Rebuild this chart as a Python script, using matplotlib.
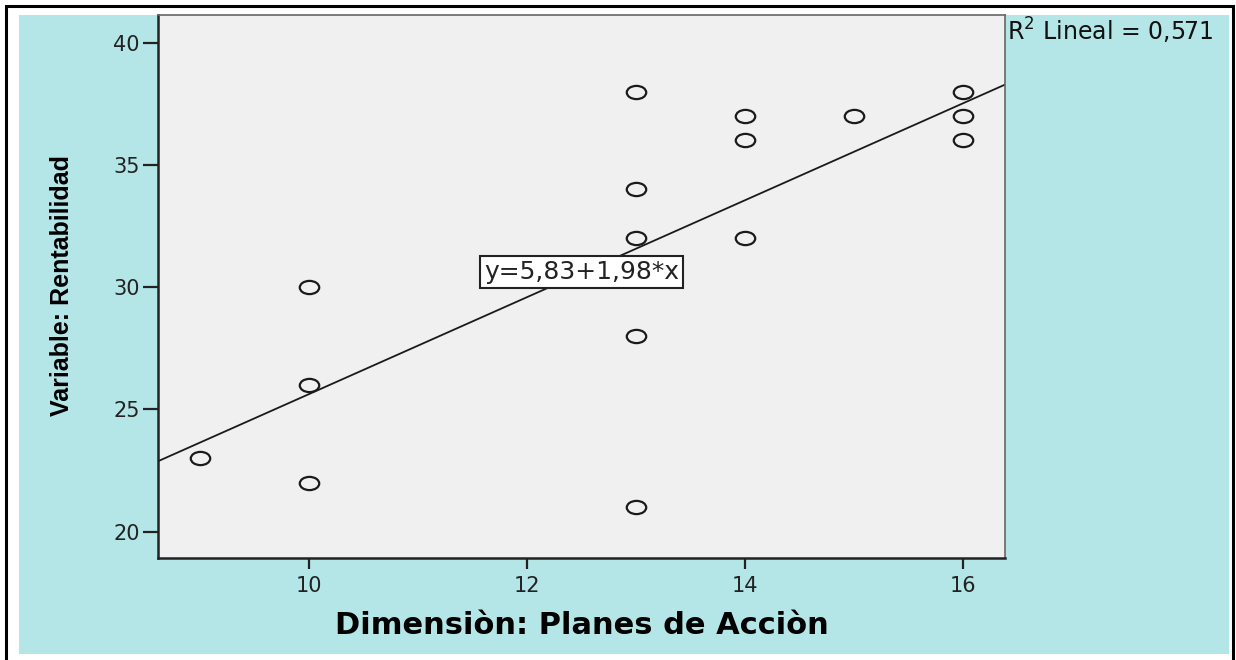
import numpy as np
import matplotlib
matplotlib.use('Agg')
import matplotlib.pyplot as plt
from matplotlib.patches import Rectangle
from matplotlib.path import Path
from matplotlib.transforms import Affine2D

# datos
planes = [9, 10, 10, 10, 13, 13, 13, 13, 13, 14, 14, 14, 15, 16, 16, 16]
rentab = [23, 30, 26, 22, 38, 34, 32, 28, 21, 37, 36, 32, 37, 38, 37, 36]
intercepto = 5.83
pendiente = 1.98
r2 = '0,571'
xticks = [10, 12, 14, 16]
yticks = [20, 25, 30, 35, 40]

W, H = 1236, 660
fig = plt.figure(figsize=(W / 100, H / 100), dpi=100)
fig.patch.set_facecolor('white')

# marco negro y fondo cian
fig.patches.append(Rectangle((6 / W, -0.01), 1227 / W, 1 - 6 / H + 0.01, transform=fig.transFigure,
                             facecolor='white', edgecolor='black', lw=2.2, zorder=-3))
fig.patches.append(Rectangle((19 / W, 6 / H), 1210 / W, 639 / H, transform=fig.transFigure,
                             facecolor='#b4e6e8', edgecolor='none', zorder=-2))

ax = fig.add_axes([158 / W, 1 - 558 / H, 847 / W, 543 / H])
ax.set_facecolor('#f0f0f0')

# circulos algo achatados como en SPSS
ellipse = Path.unit_circle().transformed(Affine2D().scale(1, 0.68))
ax.plot(planes, rentab, linestyle='none', marker=ellipse, ms=14, mfc='none', mec='#1a1a1a', mew=1.6, zorder=3)

xlim = (8.61, 16.39)
xs = np.array(xlim)
ax.plot(xs, intercepto + pendiente * xs, color='#1a1a1a', lw=1.3, zorder=2)
ax.set_xlim(xlim)
ax.set_ylim(18.92, 41.13)

ax.text(12.5, 30.62, 'y=5,83+1,98*x', fontsize=18, ha='center', va='center', family='DejaVu Sans',
        color='#222222', zorder=4,
        bbox=dict(boxstyle='square,pad=0.15', facecolor='white', edgecolor='#222222', lw=1.5))

ax.set_xticks(xticks)
ax.set_yticks(yticks)
ax.tick_params(axis='x', length=8, width=1.6, pad=5, labelsize=15, colors='#222222')
ax.tick_params(axis='y', length=11, width=1.6, pad=2, labelsize=15, colors='#222222')
for lab in ax.get_xticklabels() + ax.get_yticklabels():
    lab.set_family('DejaVu Sans')

for s in ['left', 'bottom']:
    ax.spines[s].set_linewidth(1.8)
    ax.spines[s].set_color('#222222')
for s in ['top', 'right']:
    ax.spines[s].set_linewidth(1.2)
    ax.spines[s].set_color('#666666')

ax.set_xlabel('Dimensiòn: Planes de Acciòn', fontsize=22, fontweight='bold', family='DejaVu Sans', labelpad=11)
fig.text(62 / W, 1 - 286 / H, 'Variable: Rentabilidad', rotation=90, ha='center', va='center',
         fontsize=18, fontweight='bold', family='Liberation Sans')

fig.text(1007 / W, 1 - 31 / H, r'R$^2$ Lineal = ' + r2, fontsize=17, ha='left', va='center',
         family='DejaVu Sans', color='#111111')

fig.savefig('out.png', dpi=100)
